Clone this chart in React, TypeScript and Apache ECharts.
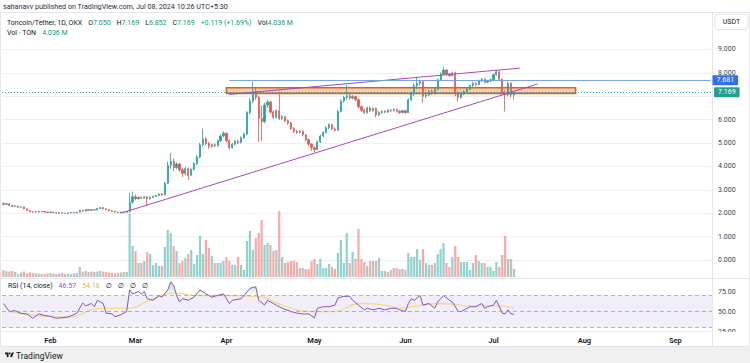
import React, { useEffect, useRef } from 'react';
import * as echarts from 'echarts';

const FONT = 'Roboto, "Noto Sans", "DejaVu Sans", sans-serif';
const UP = '#26a69a';
const DOWN = '#ef5350';
const VOL_UP = 'rgba(38,166,154,0.5)';
const VOL_DOWN = 'rgba(239,83,80,0.5)';
const PURPLE_LINE = '#ab47bc';
const BLUE = '#2f6fe8';
const TEXT = '#3c3f47';

// time axis
const startYear = 2024;
const startMonth = 0; // January
const startDay = 16;
const categoryCount = 242;
const monthNames = ['Jan', 'Feb', 'Mar', 'Apr', 'May', 'Jun', 'Jul', 'Aug', 'Sep', 'Oct', 'Nov', 'Dec'];

// daily candles from 2024-01-16: [open, close, low, high]
const candles: number[][] = [
  [2.42, 2.38, 2.34, 2.46], [2.38, 2.40, 2.35, 2.43], [2.40, 2.33, 2.31, 2.42], [2.33, 2.29, 2.27, 2.35],
  [2.29, 2.31, 2.27, 2.34], [2.31, 2.25, 2.23, 2.32], [2.25, 2.27, 2.23, 2.29], [2.27, 2.19, 2.17, 2.28],
  [2.19, 2.12, 2.10, 2.20], [2.12, 2.06, 2.04, 2.13], [2.06, 2.05, 2.02, 2.08], [2.05, 2.08, 2.04, 2.10],
  [2.08, 2.05, 2.03, 2.09], [2.05, 2.07, 2.04, 2.09], [2.07, 2.05, 2.03, 2.08], [2.05, 2.03, 2.01, 2.06],
  [2.03, 2.05, 2.02, 2.07], [2.05, 2.02, 2.00, 2.06], [2.02, 2.00, 1.98, 2.03], [2.00, 2.02, 1.99, 2.04],
  [2.02, 2.00, 1.98, 2.03], [2.00, 1.99, 1.97, 2.02], [1.99, 2.01, 1.98, 2.03], [2.01, 2.03, 2.00, 2.05],
  [2.03, 2.01, 1.99, 2.04], [2.01, 2.04, 2.00, 2.06], [2.04, 2.12, 2.03, 2.15], [2.12, 2.09, 2.07, 2.14],
  [2.09, 2.16, 2.08, 2.18], [2.16, 2.12, 2.10, 2.17], [2.12, 2.15, 2.11, 2.17], [2.15, 2.14, 2.12, 2.17],
  [2.14, 2.20, 2.13, 2.22], [2.20, 2.24, 2.18, 2.26], [2.24, 2.19, 2.17, 2.25], [2.19, 2.15, 2.13, 2.20],
  [2.15, 2.10, 2.08, 2.16], [2.10, 2.08, 2.06, 2.11], [2.08, 2.05, 2.03, 2.09], [2.05, 2.03, 2.01, 2.06],
  [2.03, 2.05, 2.01, 2.07], [2.05, 2.04, 2.02, 2.07], [2.04, 2.08, 2.03, 2.10], [2.08, 2.47, 2.02, 2.88],
  [2.47, 2.70, 2.42, 2.92], [2.70, 2.62, 2.55, 2.80], [2.62, 2.68, 2.58, 2.72], [2.68, 2.64, 2.60, 2.72],
  [2.64, 2.70, 2.61, 2.74], [2.70, 2.62, 2.30, 2.72], [2.62, 2.68, 2.58, 2.71], [2.68, 2.72, 2.65, 2.75],
  [2.72, 2.76, 2.69, 2.79], [2.76, 2.82, 2.73, 2.85], [2.82, 2.78, 2.74, 2.86], [2.78, 3.28, 2.75, 3.35],
  [3.28, 4.05, 3.25, 4.20], [4.05, 4.22, 3.90, 4.58], [4.22, 3.95, 3.80, 4.35], [3.95, 4.10, 3.88, 4.18],
  [4.10, 3.85, 3.78, 4.15], [3.85, 3.70, 3.55, 3.92], [3.70, 3.90, 3.62, 3.98], [3.90, 3.62, 3.42, 3.95],
  [3.62, 3.88, 3.58, 3.92], [3.88, 4.12, 3.82, 4.18], [4.12, 4.40, 4.05, 4.48], [4.40, 4.92, 4.35, 5.00],
  [4.92, 5.18, 4.85, 5.62], [5.18, 4.98, 4.90, 5.25], [4.98, 4.85, 4.75, 5.05], [4.85, 4.92, 4.80, 4.98],
  [4.92, 4.88, 4.82, 4.98], [4.88, 5.10, 4.85, 5.15], [5.10, 5.30, 5.05, 5.36], [5.30, 5.42, 5.25, 5.50],
  [5.42, 5.10, 5.02, 5.45], [5.10, 4.80, 4.72, 5.15], [4.80, 4.95, 4.76, 5.00], [4.95, 5.08, 4.90, 5.12],
  [5.08, 5.02, 4.96, 5.14], [5.02, 5.22, 4.98, 5.28], [5.22, 5.38, 5.18, 5.45], [5.38, 6.30, 5.32, 6.36],
  [6.30, 6.80, 6.22, 6.92], [6.80, 7.20, 6.70, 7.62], [7.20, 6.95, 6.85, 7.40], [6.95, 6.05, 5.05, 7.02],
  [6.05, 5.92, 5.10, 6.60], [5.92, 6.62, 5.85, 6.72], [6.62, 6.75, 6.50, 6.85], [6.75, 6.32, 6.25, 6.80],
  [6.32, 6.10, 6.02, 6.40], [6.10, 6.38, 6.05, 6.45], [6.38, 6.05, 5.98, 7.20], [6.05, 6.12, 5.98, 6.20],
  [6.12, 5.95, 5.88, 6.16], [5.95, 5.85, 5.78, 6.00], [5.85, 5.62, 5.55, 5.90], [5.62, 5.50, 5.42, 5.68],
  [5.50, 5.45, 5.38, 5.56], [5.45, 5.50, 5.40, 5.55], [5.50, 5.35, 5.28, 5.54], [5.35, 5.15, 5.08, 5.38],
  [5.15, 4.95, 4.88, 5.18], [4.95, 4.80, 4.66, 5.00], [4.80, 4.72, 4.60, 4.86], [4.72, 5.05, 4.68, 5.10],
  [5.05, 5.30, 5.00, 5.36], [5.30, 5.45, 5.25, 5.50], [5.45, 5.65, 5.40, 5.72], [5.65, 5.78, 5.58, 5.84],
  [5.78, 5.60, 5.55, 5.82], [5.60, 5.55, 5.48, 5.66], [5.55, 6.35, 5.52, 6.42], [6.35, 6.80, 6.30, 6.86],
  [6.80, 6.95, 6.72, 7.02], [6.95, 7.02, 6.85, 7.48], [7.02, 6.92, 6.85, 7.10], [6.92, 6.98, 6.86, 7.05],
  [6.98, 6.85, 6.78, 7.02], [6.85, 6.55, 6.48, 6.90], [6.55, 6.40, 6.34, 6.60], [6.40, 6.30, 6.24, 6.46],
  [6.30, 6.50, 6.26, 6.55], [6.50, 6.38, 6.32, 6.56], [6.38, 6.48, 6.34, 6.52], [6.48, 6.20, 6.10, 6.52],
  [6.20, 6.30, 6.15, 6.36], [6.30, 6.35, 6.25, 6.40], [6.35, 6.32, 6.27, 6.40], [6.32, 6.40, 6.28, 6.44],
  [6.40, 6.38, 6.32, 6.45], [6.38, 6.42, 6.34, 6.48], [6.42, 6.36, 6.30, 6.46], [6.36, 6.30, 6.24, 6.40],
  [6.30, 6.38, 6.26, 6.42], [6.38, 6.30, 6.24, 6.42], [6.30, 6.85, 6.28, 6.90], [6.85, 7.10, 6.80, 7.18],
  [7.10, 7.45, 7.00, 7.55], [7.45, 7.55, 7.30, 7.83], [7.55, 7.62, 7.45, 7.70], [7.62, 7.00, 6.72, 7.66],
  [7.00, 7.05, 6.92, 7.15], [7.05, 7.20, 7.00, 7.26], [7.20, 7.12, 7.05, 7.28], [7.12, 7.30, 7.08, 7.36],
  [7.30, 7.70, 7.25, 7.76], [7.70, 7.95, 7.65, 8.02], [7.95, 8.12, 7.90, 8.26], [8.12, 7.95, 7.88, 8.16],
  [7.95, 7.88, 7.82, 8.00], [7.88, 8.00, 7.84, 8.05], [8.00, 7.10, 7.00, 8.05], [7.10, 6.95, 6.77, 7.20],
  [6.95, 7.10, 6.90, 7.15], [7.10, 7.20, 7.05, 7.26], [7.20, 7.30, 7.15, 7.35], [7.30, 7.45, 7.26, 7.50],
  [7.45, 7.55, 7.40, 7.62], [7.55, 7.50, 7.42, 7.60], [7.50, 7.65, 7.46, 7.70], [7.65, 7.72, 7.60, 7.78],
  [7.72, 7.60, 7.55, 7.76], [7.60, 7.65, 7.56, 7.70], [7.65, 7.70, 7.60, 7.76], [7.70, 7.92, 7.66, 7.98],
  [7.92, 8.05, 7.88, 8.12], [8.05, 7.72, 7.65, 8.08], [7.72, 7.12, 7.05, 7.76], [7.12, 7.06, 6.34, 7.25],
  [7.06, 7.55, 7.00, 7.62], [7.55, 7.05, 6.95, 7.60], [7.05, 7.169, 6.852, 7.169],
];

// daily volume, millions of TON
const volumes: number[] = [
  3.35, 2.85, 2.75, 3, 2.5, 1.4, 2.25, 2.75, 1.75, 2.25, 2, 1.75, 1.75, 1.5, 1.5, 1.75, 2, 1.75, 1.5, 1.75,
  2, 1.5, 1.75, 1.4, 1.75, 2, 5, 2.5, 3, 2.5, 2.75, 2.5, 2.75, 3, 2.75, 2.5, 2.25, 2, 1.75, 2, 2.25, 2.5, 2.5,
  31.5, 15.5, 13, 7, 7, 8, 12.5, 11.5, 6, 7, 5.5, 5.5, 15, 23.5, 22, 15.5, 13, 7, 8, 9.5, 11.5, 13.5, 6.5, 11,
  20.5, 11.5, 18.5, 14.5, 10.5, 7, 7, 7, 8, 10, 8, 6, 6, 10, 6, 3.5, 18, 23, 13.5, 19.5, 22, 28.5, 16, 17, 16,
  13, 13.5, 33, 10, 7, 7.5, 8, 8, 7.5, 4.5, 4.5, 4, 4, 8, 9, 6.5, 9, 4.5, 4.5, 6.5, 5, 4, 12, 18.5, 7, 22, 7,
  12.5, 9, 24, 9, 7.5, 5.5, 8, 8, 8, 9.5, 3, 3, 2.5, 3.5, 4.5, 4.5, 4, 4, 3.5, 12, 10, 10, 14, 8.5, 14, 7, 6,
  6, 7, 11.5, 14, 17, 7, 5, 10, 15.5, 10, 7.5, 7.5, 7.5, 3.5, 7, 11, 8, 7, 7, 5, 5, 3, 7.5, 5, 11, 20.5, 9, 9,
  4.036,
];

// RSI(14) readings: [day index from 2024-01-16, value]
const rsiPoints: number[][] = [
  [0, 60], [2, 50], [4, 51], [6, 47.7], [8, 47], [10, 41.5], [12, 47], [14, 45], [16, 44], [18, 41.5],
  [22, 43], [25, 47.7], [27, 60.6], [28, 57], [30, 60], [31, 56], [32, 64], [34, 60], [35, 48], [37, 47],
  [38, 43.5], [40, 46], [42, 50], [43, 77], [44, 72], [46, 75], [47, 72], [48, 75], [49, 66], [51, 64],
  [53, 70], [54, 68], [56, 77], [57, 87], [58, 83], [59, 70], [60, 62], [61, 66], [63, 64], [65, 68],
  [67, 77], [69, 72], [71, 68], [73, 70], [75, 72], [77, 60], [78, 64], [81, 66], [82, 70], [84, 79],
  [86, 81], [87, 64], [89, 58], [90, 64], [92, 60], [93, 58], [95, 54], [98, 50], [100, 48], [102, 47],
  [104, 47], [106, 42], [107, 54], [109, 56], [111, 56], [113, 58], [114, 67], [116, 69], [118, 69],
  [119, 64], [121, 58], [123, 52], [124, 54], [126, 52], [128, 54], [130, 52], [132, 54], [134, 54],
  [135, 52], [137, 50], [138, 60], [139, 66], [140, 64], [142, 70], [143, 58], [145, 60], [147, 54],
  [148, 62], [150, 70], [152, 64], [153, 62], [155, 50], [156, 50], [158, 54], [159, 56], [161, 56],
  [163, 60], [164, 54], [165, 56], [167, 58], [168, 64], [170, 48], [171, 47], [172, 52], [173, 47],
  [174, 46.57],
];

// RSI-based moving average readings
const rsiMaPoints: number[][] = [
  [2, 50], [22, 43], [33, 54], [42, 54], [50, 64], [58, 73], [67, 70], [78, 70], [88, 68], [95, 58],
  [105, 50], [112, 50], [122, 60], [130, 58], [135, 54], [139, 56], [150, 60], [159, 57], [169, 57],
  [174, 54.18],
];
const rsiLevels = [70, 50, 30];
const rsiTicks = [25, 50, 75];

// drawings (day index, price)
const supportLine = [[40, 2.0], [182, 7.52]];
const resistanceLine = [[77, 7.08], [176, 8.2]];
const bluePrice = 7.681;
const blueStart = 77;
const zoneStart = 76;
const zoneEnd = 195;
const zoneLow = 7.12;
const zoneHigh = 7.36;
const lastPrice = 7.169;

const headerTitle = 'sahanavv published on TradingView.com, Jul 08, 2024 10:26 UTC+5:30';
const symbolLabel = 'Toncoin/Tether, 1D, OKX';
const ohlcLabels = ['O', 'H', 'L', 'C'];
const ohlcValues = ['7.050', '7.169', '6.852', '7.169'];
const changeLabel = '+0.119 (+1.69%)';
const volLabel = '4.036 M';

const LOGO_D = 'M14 22H7V11H0V4h14v18zM28 22h-8l7.5-18h8L28 22zM15 8a4 4 0 1 0 8 0a4 4 0 1 0 -8 0z';
let logoRegistered = false;

function buildDates(): string[] {
  const out: string[] = [];
  const d = new Date(Date.UTC(startYear, startMonth, startDay));
  for (let i = 0; i < categoryCount; i++) {
    out.push(d.toISOString().slice(0, 10));
    d.setUTCDate(d.getUTCDate() + 1);
  }
  return out;
}

function buildOption(): any {
  const cats = buildDates();
  const gridLeft = 2;
  const gridWidth = 710;
  const hiddenX = (gridIndex: number) => ({
    type: 'category', gridIndex, data: cats, boundaryGap: true,
    axisLine: { show: false }, axisTick: { show: false }, axisLabel: { show: false }, splitLine: { show: false },
  });
  const rich = {
    d: { fill: '#131722', fontSize: 7, fontFamily: FONT },
    g: { fill: '#089981', fontSize: 7, fontFamily: FONT, padding: [0, 6, 0, 0] },
    s: { fill: '#131722', fontSize: 7, fontFamily: FONT, padding: [0, 6, 0, 0] },
  };
  const ohlcText = ohlcLabels.map((l, i) => `{d|${l}}{g|${ohlcValues[i]}}`).join('');
  const priceBoxLabel = (text: string, bg: string) => ({
    show: true, position: 'end', distance: 2, formatter: () => text, color: '#fff',
    backgroundColor: bg, padding: [2, 4, 1, 4], fontSize: 7, fontFamily: FONT, borderRadius: 1,
  });

  return {
    animation: false,
    backgroundColor: '#ffffff',
    grid: [
      { left: gridLeft, width: gridWidth, top: 30, height: 248 },
      { left: gridLeft, width: gridWidth, top: 186, height: 91 },
      { left: gridLeft, width: gridWidth, top: 280, height: 51.5 },
    ],
    xAxis: [
      hiddenX(0),
      hiddenX(1),
      {
        type: 'category', gridIndex: 2, data: cats, boundaryGap: true,
        axisLine: { show: false }, axisTick: { show: false }, splitLine: { show: false },
        axisLabel: {
          interval: (_i: number, v: string) => v.slice(8) === '01',
          formatter: (v: string) => monthNames[parseInt(v.slice(5, 7), 10) - 1],
          color: '#131722', fontSize: 7.5, fontWeight: 600, fontFamily: FONT, margin: 5,
        },
      },
    ],
    yAxis: [
      {
        type: 'value', gridIndex: 0, position: 'right', min: -0.769, max: 9.829, splitNumber: 10, scale: true,
        axisLine: { show: false }, axisTick: { show: false },
        axisLabel: {
          showMinLabel: false, showMaxLabel: false, margin: 6,
          // the level under the last-price box is covered by it, as in the reference
          formatter: (v: number) => (Math.abs(v - lastPrice) < 0.35 ? '' : v.toFixed(3)),
          color: TEXT, fontSize: 7, fontFamily: FONT,
        },
        splitLine: { show: true, showMinLine: false, showMaxLine: false, lineStyle: { color: '#eef0f4', width: 1 } },
      },
      { type: 'value', gridIndex: 1, min: 0, max: 45.5, show: false },
      {
        type: 'value', gridIndex: 2, position: 'right', min: rsiTicks[0], max: 89.4, interval: 25,
        axisLine: { show: false }, axisTick: { show: false }, splitLine: { show: false },
        axisLabel: {
          showMaxLabel: false, margin: 6, formatter: (v: number) => v.toFixed(2),
          color: TEXT, fontSize: 7, fontFamily: FONT,
        },
      },
    ],
    series: [
      {
        type: 'bar', xAxisIndex: 1, yAxisIndex: 1, barWidth: '75%', silent: true,
        data: volumes.map((v, i) => ({
          value: v,
          itemStyle: { color: candles[i] && candles[i][1] >= candles[i][0] ? VOL_UP : VOL_DOWN },
        })),
      },
      {
        type: 'candlestick', xAxisIndex: 0, yAxisIndex: 0, clip: false, barWidth: 1.7, silent: true,
        data: candles,
        itemStyle: { color: UP, color0: DOWN, borderColor: UP, borderColor0: DOWN, borderWidth: 0.8 },
        markArea: {
          silent: true,
          data: [[
            {
              coord: [cats[zoneStart], zoneHigh],
              itemStyle: { color: 'rgba(230,120,40,0.38)', borderColor: '#cf6424', borderWidth: 1.6 },
              label: { show: false },
            },
            { coord: [cats[zoneEnd], zoneLow] },
          ]],
        },
        markLine: {
          silent: true, symbol: ['none', 'none'], animation: false,
          data: [
            [
              { coord: [cats[supportLine[0][0]], supportLine[0][1]], lineStyle: { color: PURPLE_LINE, width: 1, type: 'solid' }, label: { show: false } },
              { coord: [cats[supportLine[1][0]], supportLine[1][1]] },
            ],
            [
              { coord: [cats[resistanceLine[0][0]], resistanceLine[0][1]], lineStyle: { color: PURPLE_LINE, width: 1, type: 'solid' }, label: { show: false } },
              { coord: [cats[resistanceLine[1][0]], resistanceLine[1][1]] },
            ],
            [
              { coord: [cats[blueStart], bluePrice], lineStyle: { color: '#6b9be8', width: 0.9, type: 'solid' }, label: priceBoxLabel(bluePrice.toFixed(3), BLUE) },
              { coord: [cats[cats.length - 1], bluePrice] },
            ],
            {
              yAxis: lastPrice, lineStyle: { color: UP, width: 1, type: [1, 2] },
              label: priceBoxLabel(lastPrice.toFixed(3), '#22a08f'),
            },
          ],
        },
      },
      {
        type: 'line', xAxisIndex: 2, yAxisIndex: 2, silent: true, symbol: 'none', z: 1,
        data: rsiPoints.map(([i, v]) => [i, Math.max(v, rsiLevels[0])]),
        lineStyle: { width: 0, opacity: 0 },
        areaStyle: {
          origin: rsiLevels[0],
          color: new echarts.graphic.LinearGradient(0, 0, 0, 1, [
            { offset: 0, color: 'rgba(76,175,80,0.55)' },
            { offset: 1, color: 'rgba(76,175,80,0.05)' },
          ]),
        },
      },
      {
        type: 'line', xAxisIndex: 2, yAxisIndex: 2, silent: true, symbol: 'none', smooth: true,
        data: rsiMaPoints, lineStyle: { color: '#f2d67a', width: 1.3, opacity: 0.85 },
      },
      {
        type: 'line', xAxisIndex: 2, yAxisIndex: 2, silent: true, symbol: 'none',
        data: rsiPoints, lineStyle: { color: '#7e57c2', width: 1 },
        markArea: {
          silent: true,
          data: [[{ yAxis: rsiLevels[0], itemStyle: { color: 'rgba(126,87,194,0.1)' }, label: { show: false } }, { yAxis: rsiLevels[2] }]],
        },
        markLine: {
          silent: true, symbol: ['none', 'none'],
          lineStyle: { color: '#9598a1', width: 1, type: [4, 3], opacity: 0.7 },
          label: { show: false },
          data: rsiLevels.map((v) => ({ yAxis: v })),
        },
      },
    ],
    graphic: [
      { type: 'rect', shape: { x: 0.5, y: 12.5, width: 749, height: 334 }, style: { fill: 'none', stroke: '#e3e5ea', lineWidth: 1 }, silent: true },
      { type: 'line', shape: { x1: 712.5, y1: 13, x2: 712.5, y2: 346 }, style: { stroke: '#e3e5ea', lineWidth: 1 }, silent: true },
      { type: 'line', shape: { x1: 0, y1: 278.5, x2: 750, y2: 278.5 }, style: { stroke: '#e3e5ea', lineWidth: 1 }, silent: true },
      { type: 'line', shape: { x1: 0, y1: 331.5, x2: 712, y2: 331.5 }, style: { stroke: '#eceef2', lineWidth: 1 }, silent: true },
      { type: 'rect', z: 50, shape: { x: 713, y: 332, width: 36, height: 13.5 }, style: { fill: '#fff' }, silent: true },
      {
        type: 'text', x: 3, y: 6.5, silent: true,
        style: { text: headerTitle, fill: '#2a2e39', fontSize: 7.2, fontFamily: FONT, verticalAlign: 'middle' },
      },
      {
        type: 'text', x: 7, y: 22.5, silent: true,
        style: {
          text: `{s|${symbolLabel}}${ohlcText}{g|${changeLabel}}{d|Vol}{g|${volLabel}}`,
          rich, verticalAlign: 'middle',
        },
      },
      {
        type: 'text', x: 7, y: 33, silent: true,
        style: { text: `{s|Vol · TON}{g|${volLabel}}`, rich, verticalAlign: 'middle' },
      },
      {
        type: 'text', x: 8, y: 285.5, silent: true,
        style: {
          text: '{s|RSI (14, close)}{p|46.57}{y|54.18}{s|∅}{s|∅}{s|∅}{s|∅}',
          verticalAlign: 'middle',
          rich: {
            s: rich.s,
            p: { fill: '#7e57c2', fontSize: 7, fontFamily: FONT, padding: [0, 6, 0, 0] },
            y: { fill: '#e0b93c', fontSize: 7, fontFamily: FONT, padding: [0, 6, 0, 0] },
          },
        },
      },
      { type: 'rect', z: 5, shape: { x: 715, y: 14.5, width: 33, height: 15, r: 3 }, style: { fill: '#fff', stroke: '#e0e3eb', lineWidth: 1 }, silent: true },
      {
        type: 'text', z: 6, x: 731.5, y: 22, silent: true,
        style: { text: 'USDT', fill: '#131722', fontSize: 7, fontFamily: FONT, align: 'center', verticalAlign: 'middle' },
      },
      { type: 'rect', shape: { x: 0, y: 347, width: 750, height: 16 }, style: { fill: '#efefef' }, silent: true },
      { type: 'tvlogo', x: 5, y: 351.5, scaleX: 0.25, scaleY: 0.25, style: { fill: '#131722' }, silent: true },
      {
        type: 'text', x: 16, y: 355.5, silent: true,
        style: { text: 'TradingView', fill: '#131722', fontSize: 8.5, fontFamily: FONT, verticalAlign: 'middle' },
      },
    ],
  };
}

export default function App() {
  const ref = useRef<HTMLDivElement>(null);
  useEffect(() => {
    document.body.style.margin = '0';
    if (!logoRegistered) {
      echarts.graphic.registerShape('tvlogo', echarts.graphic.extendPath(LOGO_D, {}));
      logoRegistered = true;
    }
    const chart = echarts.init(ref.current as HTMLDivElement, null, { renderer: 'svg' });
    chart.setOption(buildOption());
    return () => chart.dispose();
  }, []);
  return (
    <div
      ref={ref}
      style={{ position: 'absolute', left: 0, top: 0, width: 750, height: 363, background: '#fff' }}
    />
  );
}
